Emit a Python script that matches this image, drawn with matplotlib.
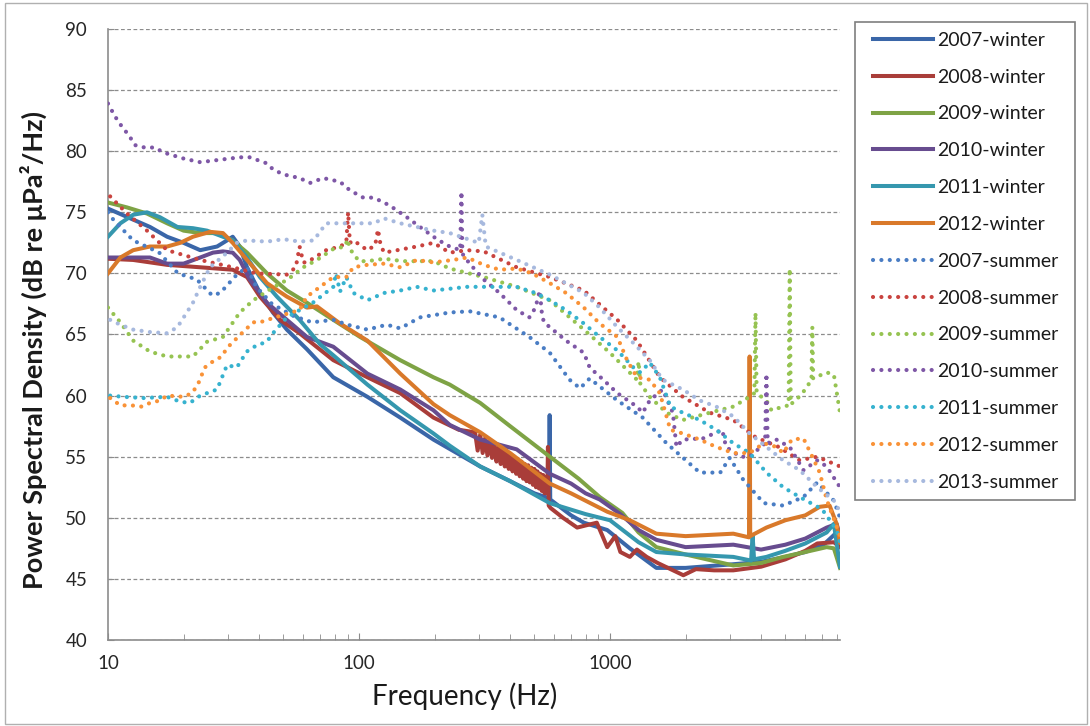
import matplotlib
matplotlib.use("Agg")
import matplotlib.pyplot as plt
from matplotlib.patches import Rectangle
from matplotlib.lines import Line2D
from matplotlib.legend_handler import HandlerLine2D
from matplotlib.ticker import LogLocator, NullFormatter, FixedLocator, FixedFormatter

plt.rcParams['font.family'] = ['Lato', 'DejaVu Sans']

# ---------------- data (Hz, dB re uPa^2/Hz) ----------------
labels = ["2007-winter", "2008-winter", "2009-winter", "2010-winter", "2011-winter", "2012-winter",
          "2007-summer", "2008-summer", "2009-summer", "2010-summer", "2011-summer", "2012-summer",
          "2013-summer"]

f_w2007 = [10, 12.6, 14.7, 17.2, 20, 23.3, 27.2, 29.8, 31.4, 33.5, 35.8, 40.3, 45.4, 51.6, 62, 79, 108, 146,
           198, 304, 400, 500, 572, 575, 578, 700, 787, 975, 1200, 1530, 2000, 3100, 4000, 5000, 6000, 7100,
           8000, 8250]
v_w2007 = [75.3, 74.4, 73.8, 73.0, 72.5, 71.9, 72.2, 72.7, 73.0, 72.2, 70.5, 68.4, 66.8, 65.4, 63.8, 61.5,
           59.9, 58.2, 56.4, 54.2, 53.0, 52.0, 51.6, 58.4, 51.5, 50.2, 49.6, 49.0, 47.5, 45.9, 45.9, 46.2,
           46.4, 46.8, 47.2, 47.8, 48.8, 48.2]

f_w2008 = [10, 12.6, 17.2, 23.3, 31.4, 35.8, 40.3, 48.5, 58, 79, 108, 146, 198, 250,
           290, 297, 304, 311, 318, 325, 332, 339, 346, 353, 360, 367, 374, 381, 388, 395, 402, 409, 416,
           423, 430, 437, 444, 451, 458, 465, 472, 479, 486, 493, 500, 507, 514, 521, 528, 535, 542, 549,
           556, 563, 566, 570, 580, 650, 740, 886, 975, 1050, 1100, 1200, 1280, 1400, 1550, 1960, 2200,
           2600, 3100, 4000, 5000, 6000, 6700, 7800, 8250]
v_w2008 = [71.2, 71.1, 70.7, 70.5, 70.3, 69.7, 68.1, 66.2, 65.1, 62.9, 61.5, 60.2, 58.2, 57.2,
           57.0, 55.5, 56.8, 55.3, 56.5, 55.1, 56.3, 54.9, 56.0, 54.6, 55.8, 54.4, 55.6, 54.2, 55.4, 54.0,
           55.2, 53.8, 55.0, 53.6, 54.8, 53.4, 54.6, 53.2, 54.4, 53.0, 54.3, 52.9, 54.1, 52.7, 54.0, 52.5,
           53.8, 52.4, 53.6, 52.2, 53.5, 52.0, 53.3, 52.0, 55.8, 51.0, 50.8, 50.0, 49.2, 49.6, 47.6, 48.5,
           47.2, 46.8, 47.4, 46.8, 46.3, 45.3, 45.8, 45.7, 45.7, 46.0, 46.6, 47.3, 47.9, 48.0, 47.6]

f_w2009 = [10, 11.9, 14.3, 17.2, 20, 23.3, 27.2, 31.4, 35.8, 43, 51.6, 62, 79, 101, 146, 198, 230, 304, 400,
           576, 750, 910, 1120, 1300, 1530, 2000, 3100, 4000, 4900, 6000, 7300, 7800, 8250]
v_w2009 = [75.8, 75.4, 74.9, 74.1, 73.5, 73.3, 73.3, 72.7, 71.7, 70.0, 68.6, 67.6, 66.2, 64.8, 62.9, 61.5,
           60.9, 59.4, 57.5, 55.0, 53.2, 51.7, 50.4, 48.8, 47.6, 47.0, 46.1, 46.3, 46.8, 47.2, 47.6, 47.5, 45.9]

f_w2010 = [10, 12.6, 14.7, 17.2, 20, 23.3, 26.2, 28.7, 31.4, 33.5, 36.7, 43, 51.6, 62, 79, 108, 146, 198, 230,
           304, 425, 576, 700, 800, 910, 1100, 1300, 1530, 2000, 3100, 4000, 5000, 6000, 7300, 8000, 8250]
v_w2010 = [71.3, 71.3, 71.3, 70.8, 70.8, 71.3, 71.7, 71.8, 71.7, 71.1, 69.5, 67.6, 66.2, 64.8, 64.0, 61.8,
           60.5, 58.8, 57.6, 56.4, 55.6, 53.6, 52.8, 52.0, 51.5, 50.3, 49.0, 48.2, 47.6, 47.8, 47.4, 47.8,
           48.3, 49.2, 49.5, 48.5]

f_w2011 = [10, 11.2, 12.6, 14.3, 16.1, 18.9, 21.8, 24.8, 28.7, 31.4, 35.8, 40.3, 47.1, 58, 70, 79, 108, 146,
           198, 230, 304, 400, 576, 800, 1000, 1300, 1530, 2000, 3100, 3650, 3700, 3750, 4200, 5000, 6000,
           7300, 7800, 8250]
v_w2011 = [73.0, 74.1, 74.8, 75.0, 74.6, 73.8, 73.7, 73.5, 73.0, 72.7, 71.3, 69.7, 68.1, 66.2, 64.2, 63.3,
           60.9, 58.8, 56.9, 55.9, 54.2, 53.0, 51.2, 50.3, 49.8, 48.0, 47.2, 47.0, 46.8, 46.5, 48.6, 46.6,
           46.8, 47.3, 47.9, 48.8, 49.5, 46.0]

f_w2012 = [10, 11.2, 12.6, 14.7, 17.2, 19.4, 21.8, 25.5, 28.7, 31.4, 35.8, 43, 51.6, 62, 68, 84, 108, 146, 198,
           230, 304, 400, 576, 700, 975, 1200, 1530, 2000, 3100, 3580, 3600, 3620, 4200, 5000, 6000, 6850,
           7500, 8000, 8250]
v_w2012 = [70.0, 71.3, 71.9, 72.2, 72.2, 72.5, 73.0, 73.4, 73.3, 72.5, 71.1, 69.2, 68.1, 67.2, 67.3, 65.9,
           64.5, 61.8, 59.3, 58.4, 57.0, 55.3, 52.8, 52.0, 50.5, 49.8, 48.7, 48.5, 48.7, 48.4, 63.2, 48.5,
           49.2, 49.8, 50.2, 50.9, 51.0, 49.5, 48.0]

f_s2007 = [10, 10.5, 12.6, 16, 19, 22.6, 26, 28, 32.6, 35.8, 39, 45, 55, 65, 79, 90, 108, 129, 146, 175, 230,
           276, 363, 477, 576, 690, 760, 830, 1070, 1350, 1680, 2280, 2750, 3000, 3400, 4100, 4900, 5900,
           6700, 7800, 8250]
v_s2007 = [75.0, 74.4, 72.7, 71.7, 70.0, 69.5, 68.2, 68.4, 69.9, 70.5, 68.9, 67.5, 66.5, 66.0, 66.2, 65.8,
           65.4, 65.8, 65.5, 66.4, 66.8, 66.9, 66.4, 64.8, 63.5, 61.3, 60.6, 61.4, 59.6, 58.2, 56.1, 53.7,
           53.7, 54.9, 53.1, 51.2, 51.0, 51.7, 52.9, 51.4, 50.0]

f_s2008 = [10.2, 11.9, 14.3, 17.2, 23.3, 31.4, 39, 51.6, 56, 58, 60, 62, 74, 84, 89, 90.5, 92, 95, 108, 116,
           119, 122, 126, 170, 198, 230, 270, 314, 425, 576, 787, 940, 1070, 1280, 1580, 1950, 2500, 3100,
           3800, 4700, 5700, 6700, 8250]
v_s2008 = [76.3, 74.9, 73.5, 71.9, 71.1, 70.5, 70.0, 69.9, 70.5, 72.2, 70.9, 70.9, 71.9, 72.2, 72.5, 75.0,
           72.5, 72.7, 71.9, 72.3, 73.6, 72.3, 71.7, 72.2, 72.5, 71.7, 71.9, 71.8, 70.5, 69.7, 68.6, 67.2,
           66.2, 64.5, 61.5, 59.9, 58.6, 58.0, 56.6, 55.8, 54.7, 55.0, 54.2]

f_s2009 = [10, 11.2, 12.6, 14.7, 17.2, 19.4, 21.8, 24.8, 28.7, 33.5, 37.9, 45, 52, 60, 68, 79, 88, 90, 92, 100,
           108, 126, 150, 198, 230, 314, 425, 576, 787, 1000, 1280, 1300, 1320, 1440, 1680, 1950, 2500, 3100,
           3600, 3760, 3800, 3840, 4200, 4400, 4900, 5150, 5200, 5250, 5500, 6000, 6350, 6400, 6450, 7300,
           7800, 8250]
v_s2009 = [67.2, 66.0, 64.5, 63.6, 63.2, 63.2, 63.2, 64.4, 64.8, 66.8, 67.8, 68.8, 69.5, 70.5, 71.1, 72.0,
           72.2, 72.8, 72.0, 71.0, 71.0, 71.2, 71.0, 71.0, 70.4, 69.7, 68.9, 67.8, 65.4, 63.5, 61.3, 62.8,
           61.0, 59.9, 58.6, 58.0, 58.6, 59.1, 59.9, 60.2, 66.8, 60.2, 59.6, 58.8, 59.1, 59.2, 70.4, 59.3,
           59.6, 60.5, 61.3, 65.6, 61.4, 61.9, 61.7, 58.6]

f_s2010 = [10, 10.5, 11, 12.2, 12.8, 14, 15.4, 16.6, 20, 23.3, 27.9, 33.5, 36.7, 43, 45.5, 50, 58, 63.8, 72, 84,
           92, 104, 114, 126, 136, 155, 175, 198, 224, 253, 256, 258, 260, 276, 314, 363, 425, 477, 505, 525,
           535, 545, 576, 668, 787, 830, 940, 1070, 1280, 1350, 1440, 1620, 1780, 1840, 1950, 2350, 2800,
           2900, 3300, 3600, 4150, 4200, 4250, 4600, 5200, 5900, 6700, 7300, 8250]
v_s2010 = [83.9, 83.1, 82.4, 81.2, 80.5, 80.3, 80.3, 79.9, 79.4, 79.1, 79.3, 79.5, 79.5, 79.0, 78.5, 78.1,
           77.8, 77.4, 77.8, 77.5, 76.8, 76.2, 76.2, 75.8, 75.4, 74.6, 73.8, 73.0, 72.3, 71.9, 76.7, 71.9,
           71.5, 70.8, 69.5, 68.4, 67.0, 66.4, 67.2, 68.6, 66.8, 66.0, 65.6, 64.5, 63.5, 62.3, 61.3, 60.2,
           59.1, 58.6, 59.6, 60.5, 58.6, 55.8, 56.4, 56.5, 57.2, 55.8, 55.0, 55.0, 56.1, 61.8, 56.1, 56.4,
           55.8, 53.9, 54.7, 54.2, 52.5]

f_s2011 = [10.2, 11.5, 13.8, 17.2, 19.4, 21.2, 23.3, 27.2, 29.8, 32.6, 35.7, 39, 42.9, 45.4, 51.6, 58, 65.5,
           79, 81, 84, 89, 95, 108, 126, 146, 170, 198, 270, 425, 505, 576, 668, 787, 910, 1070, 1240, 1320,
           1440, 1580, 1740, 1950, 2280, 2650, 3100, 3600, 4200, 4900, 5700, 7000, 8000, 8250]
v_s2011 = [60.0, 59.9, 59.8, 59.9, 59.5, 59.4, 60.0, 60.5, 62.5, 62.3, 63.6, 64.1, 64.4, 65.1, 66.4, 67.0,
           67.6, 68.9, 70.0, 68.5, 69.7, 68.4, 67.8, 68.4, 68.6, 68.9, 68.6, 68.9, 68.9, 68.4, 67.8, 67.0,
           65.9, 64.8, 63.7, 62.3, 61.9, 62.7, 61.5, 59.1, 58.6, 58.0, 57.2, 56.1, 55.3, 53.7, 52.5, 51.7,
           50.7, 49.0, 48.0]

f_s2012 = [10.2, 11.2, 12.4, 13.6, 14.7, 16.1, 17.2, 20, 21.6, 22.8, 24.3, 26.2, 28.4, 29.8, 32.6, 34.5, 37.9,
           40.3, 48, 58, 62, 70, 79, 89, 95, 108, 126, 146, 170, 198, 237, 270, 314, 363, 425, 490, 576, 668,
           787, 910, 1070, 1170, 1280, 1440, 1580, 1680, 1740, 1950, 2280, 2650, 3100, 3600, 4100, 4600,
           4900, 5300, 5900, 6400, 6850, 7300, 8250]
v_s2012 = [59.8, 59.2, 59.2, 59.1, 59.4, 59.6, 60.0, 59.9, 60.2, 60.9, 62.3, 62.8, 63.2, 63.9, 64.7, 65.2,
           66.0, 66.0, 66.5, 67.0, 68.1, 68.9, 69.7, 69.7, 70.5, 70.7, 70.8, 70.5, 71.1, 70.9, 71.1, 71.3,
           70.7, 70.3, 70.4, 70.0, 69.2, 68.4, 67.2, 65.9, 64.8, 62.9, 61.5, 61.3, 60.2, 58.3, 57.2, 56.9,
           56.4, 55.8, 55.3, 55.3, 56.1, 55.8, 55.3, 56.4, 56.5, 55.0, 53.7, 51.5, 48.5]

f_s2013 = [10.2, 11.2, 12.6, 14.7, 17.2, 18.9, 20.6, 21.8, 23.3, 25.5, 29.8, 32.6, 35.8, 43, 50, 58, 66, 74,
           84, 100, 114, 126, 146, 170, 198, 230, 300, 310, 320, 425, 576, 787, 910, 1070, 1240, 1440, 1620,
           1950, 2280, 2650, 3100, 3600, 4200, 4900, 5700, 6700, 7800, 8250]
v_s2013 = [66.2, 65.8, 65.4, 65.2, 65.1, 65.6, 66.8, 67.6, 68.9, 70.5, 71.7, 72.5, 72.7, 72.6, 72.8, 72.6,
           72.7, 74.1, 74.1, 74.1, 74.1, 74.5, 74.1, 73.8, 73.5, 73.3, 72.5, 74.8, 72.2, 71.1, 69.9, 68.4,
           67.2, 65.6, 64.3, 62.9, 61.3, 60.5, 59.6, 59.1, 58.3, 56.9, 55.8, 54.7, 53.9, 52.5, 51.4, 50.5]

x_ticks = [10, 100, 1000]
x_ticklabels = ["10", "100", "1000"]
y_ticks = [40, 45, 50, 55, 60, 65, 70, 75, 80, 85, 90]

colors = ["#3A66A8", "#A93D39", "#7EA345", "#674C8F", "#3597AE", "#D9792A",
          "#4A7DC4", "#C9433F", "#96C352", "#7E57A6", "#36B2CF", "#F99237", "#A7B9DE"]

series = [(f_w2007, v_w2007), (f_w2008, v_w2008), (f_w2009, v_w2009), (f_w2010, v_w2010),
          (f_w2011, v_w2011), (f_w2012, v_w2012),
          (f_s2007, v_s2007), (f_s2008, v_s2008), (f_s2009, v_s2009), (f_s2010, v_s2010),
          (f_s2011, v_s2011), (f_s2012, v_s2012), (f_s2013, v_s2013)]

# ---------------- figure ----------------
fig = plt.figure(figsize=(10.9, 7.26), dpi=100)
ax = fig.add_axes([108 / 1090, 1 - 640 / 726, (840 - 108) / 1090, (640 - 29) / 726])

handles = []
for (f, v), lab, c in zip(series, labels, colors):
    if "winter" in lab:
        h, = ax.plot(f, v, color=c, lw=2.9, solid_joinstyle='round', label=lab, zorder=3)
    else:
        h, = ax.plot(f, v, color=c, lw=3.0, linestyle=(0, (0.01, 2.0)),
                     dash_capstyle='round', label=lab, zorder=4)
    handles.append(h)

ax.set_xscale('log')
ax.set_xlim(10, 8250)
ax.set_ylim(40, 90)
ax.xaxis.set_major_locator(FixedLocator(x_ticks))
ax.xaxis.set_major_formatter(FixedFormatter(x_ticklabels))
ax.xaxis.set_minor_locator(LogLocator(base=10, subs=range(2, 10)))
ax.xaxis.set_minor_formatter(NullFormatter())
ax.set_yticks(y_ticks)

ax.yaxis.grid(True, linestyle=(0, (3, 2)), color='#8c8c8c', lw=0.9)
ax.set_axisbelow(True)
for s in ['top', 'right']:
    ax.spines[s].set_visible(False)
for s in ['left', 'bottom']:
    ax.spines[s].set_color('#8c8c8c')
    ax.spines[s].set_linewidth(1.2)

ax.tick_params(axis='x', which='both', direction='in', colors='#8c8c8c', labelcolor='#262626',
               labelsize=13.5, pad=11)
ax.tick_params(axis='x', which='major', length=5)
ax.tick_params(axis='x', which='minor', length=4)
ax.tick_params(axis='y', direction='in', length=4, colors='#8c8c8c', labelcolor='#262626',
               labelsize=13.5, pad=15)

ax.set_xlabel("Frequency (Hz)", fontsize=20, color='#1a1a1a')
ax.xaxis.set_label_coords((465 - 108) / 732, (640 - 682) / 611)
ax.set_ylabel("Power Spectral Density (dB re μPa²/Hz)", fontsize=19.5, fontweight='bold',
              color='#1a1a1a')
ax.yaxis.set_label_coords((47 - 108) / 732, (640 - 350) / 611)

leg = fig.legend(handles=handles, labels=labels, loc='upper left',
                 bbox_to_anchor=(855 / 1090, 1 - 22 / 726, (1075 - 855) / 1090, 0.0), mode='expand',
                 fontsize=14, frameon=True, fancybox=False, edgecolor='#7f7f7f', framealpha=1,
                 handlelength=3.5, handletextpad=0.25, labelspacing=1.02, borderpad=0.5,
                 borderaxespad=0, handler_map={Line2D: HandlerLine2D(xpad=0.42)})
leg.get_frame().set_linewidth(1.2)
for t in leg.get_texts():
    t.set_color('#1a1a1a')

fig.patches.append(Rectangle((5 / 1090, 2 / 726), 1082 / 1090, 721 / 726, transform=fig.transFigure,
                             fill=False, edgecolor='#b0b0b0', lw=1.0))

fig.savefig("out.png", dpi=100)
